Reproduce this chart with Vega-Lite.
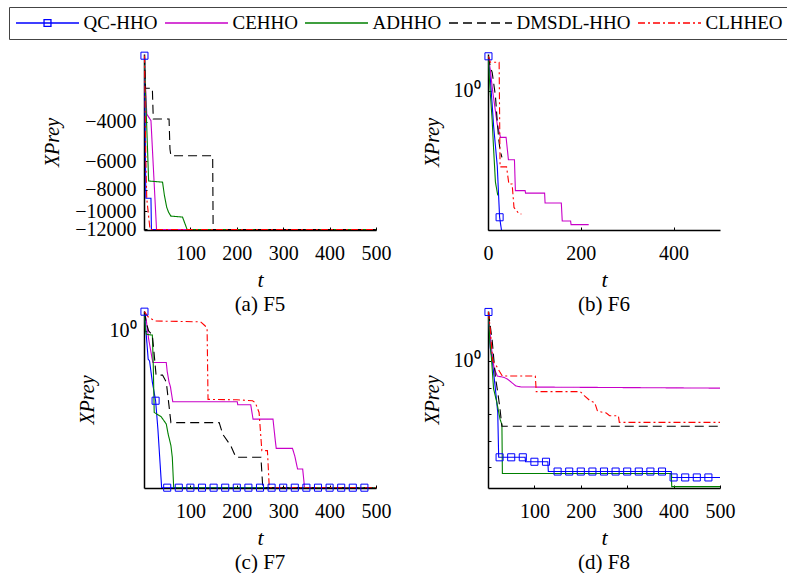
{
  "$schema": "https://vega.github.io/schema/vega-lite/v6.json",
  "padding": {"left": 8, "top": 6, "right": 0, "bottom": 0},
  "background": "white",
  "datasets": {
    "F5": [
      {"alg":"QC-HHO","t":1,"v":-2035},{"alg":"QC-HHO","t":4,"v":-8750},{"alg":"QC-HHO","t":15,"v":-8750},{"alg":"QC-HHO","t":16,"v":-12050},{"alg":"QC-HHO","t":500,"v":-12050},
      {"alg":"CEHHO","t":1,"v":-2035},{"alg":"CEHHO","t":3,"v":-2700},{"alg":"CEHHO","t":6,"v":-3700},{"alg":"CEHHO","t":15,"v":-3950},{"alg":"CEHHO","t":27,"v":-12050},{"alg":"CEHHO","t":500,"v":-12050},
      {"alg":"ADHHO","t":1,"v":-2035},{"alg":"ADHHO","t":3,"v":-2840},{"alg":"ADHHO","t":10,"v":-7330},{"alg":"ADHHO","t":40,"v":-7420},{"alg":"ADHHO","t":44,"v":-8500},{"alg":"ADHHO","t":49,"v":-9600},{"alg":"ADHHO","t":53,"v":-10100},{"alg":"ADHHO","t":58,"v":-10500},{"alg":"ADHHO","t":83,"v":-10600},{"alg":"ADHHO","t":93,"v":-12050},{"alg":"ADHHO","t":500,"v":-12050},
      {"alg":"DMSDL-HHO","t":1,"v":-2035},{"alg":"DMSDL-HHO","t":3,"v":-2840},{"alg":"DMSDL-HHO","t":18,"v":-2840},{"alg":"DMSDL-HHO","t":20,"v":-3890},{"alg":"DMSDL-HHO","t":54,"v":-3890},{"alg":"DMSDL-HHO","t":56,"v":-5300},{"alg":"DMSDL-HHO","t":58,"v":-5660},{"alg":"DMSDL-HHO","t":148,"v":-5660},{"alg":"DMSDL-HHO","t":149,"v":-12050},{"alg":"DMSDL-HHO","t":500,"v":-12050},
      {"alg":"CLHHEO","t":1,"v":-2035},{"alg":"CLHHEO","t":4,"v":-6000},{"alg":"CLHHEO","t":6,"v":-8800},{"alg":"CLHHEO","t":13,"v":-12050},{"alg":"CLHHEO","t":500,"v":-12050}
    ],
    "F5m": [{"t":1,"v":-2035}],
    "F6": [
      {"alg":"QC-HHO","t":1,"v":20},{"alg":"QC-HHO","t":5,"v":3},{"alg":"QC-HHO","t":9,"v":0.3},{"alg":"QC-HHO","t":12,"v":0.05},{"alg":"QC-HHO","t":20,"v":0.0015},{"alg":"QC-HHO","t":25,"v":0.000018},{"alg":"QC-HHO","t":29,"v":0.000006},{"alg":"QC-HHO","t":31,"v":0.000001},
      {"alg":"CEHHO","t":1,"v":20},{"alg":"CEHHO","t":5,"v":6},{"alg":"CEHHO","t":10,"v":1},{"alg":"CEHHO","t":20,"v":0.055},{"alg":"CEHHO","t":27,"v":0.018},{"alg":"CEHHO","t":39,"v":0.018},{"alg":"CEHHO","t":44,"v":0.0026},{"alg":"CEHHO","t":57,"v":0.0026},{"alg":"CEHHO","t":59,"v":0.00018},{"alg":"CEHHO","t":80,"v":0.00018},{"alg":"CEHHO","t":81,"v":0.000145},{"alg":"CEHHO","t":122,"v":0.000145},{"alg":"CEHHO","t":123,"v":0.000062},{"alg":"CEHHO","t":158,"v":0.000062},{"alg":"CEHHO","t":160,"v":0.000013},{"alg":"CEHHO","t":178,"v":0.000013},{"alg":"CEHHO","t":179,"v":0.0000095},{"alg":"CEHHO","t":217,"v":0.0000095},
      {"alg":"ADHHO","t":1,"v":20},{"alg":"ADHHO","t":3,"v":3},{"alg":"ADHHO","t":5,"v":0.8},{"alg":"ADHHO","t":9,"v":0.08},{"alg":"ADHHO","t":12,"v":0.007},{"alg":"ADHHO","t":16,"v":0.00038},{"alg":"ADHHO","t":21,"v":0.00012},
      {"alg":"DMSDL-HHO","t":1,"v":20},{"alg":"DMSDL-HHO","t":5,"v":8},{"alg":"DMSDL-HHO","t":9,"v":5},{"alg":"DMSDL-HHO","t":16,"v":0.65},{"alg":"DMSDL-HHO","t":19,"v":0.12},{"alg":"DMSDL-HHO","t":23,"v":0.016},{"alg":"DMSDL-HHO","t":26,"v":0.006},{"alg":"DMSDL-HHO","t":30,"v":0.0032},
      {"alg":"CLHHEO","t":1,"v":20},{"alg":"CLHHEO","t":5,"v":12},{"alg":"CLHHEO","t":24,"v":12},{"alg":"CLHHEO","t":26,"v":0.0014},{"alg":"CLHHEO","t":40,"v":0.0014},{"alg":"CLHHEO","t":45,"v":0.00032},{"alg":"CLHHEO","t":52,"v":0.00032},{"alg":"CLHHEO","t":56,"v":0.000042},{"alg":"CLHHEO","t":67,"v":0.000024},{"alg":"CLHHEO","t":72,"v":0.000024}
    ],
    "F6m": [{"t":1,"v":20},{"t":25,"v":0.000018}],
    "F7": [
      {"alg":"QC-HHO","t":1,"v":5.3},{"alg":"QC-HHO","t":9,"v":0.087},{"alg":"QC-HHO","t":12,"v":0.075},{"alg":"QC-HHO","t":18,"v":0.012},{"alg":"QC-HHO","t":25,"v":0.0024},{"alg":"QC-HHO","t":30,"v":0.0002},{"alg":"QC-HHO","t":38,"v":0.0000013},{"alg":"QC-HHO","t":500,"v":0.0000013},
      {"alg":"CEHHO","t":1,"v":5.3},{"alg":"CEHHO","t":5,"v":2.5},{"alg":"CEHHO","t":10,"v":0.5},{"alg":"CEHHO","t":19,"v":0.065},{"alg":"CEHHO","t":48,"v":0.065},{"alg":"CEHHO","t":50,"v":0.03},{"alg":"CEHHO","t":54,"v":0.012},{"alg":"CEHHO","t":57,"v":0.008},{"alg":"CEHHO","t":62,"v":0.0022},{"alg":"CEHHO","t":201,"v":0.0022},{"alg":"CEHHO","t":202,"v":0.0017},{"alg":"CEHHO","t":230,"v":0.0017},{"alg":"CEHHO","t":235,"v":0.00049},{"alg":"CEHHO","t":278,"v":0.00049},{"alg":"CEHHO","t":283,"v":0.000075},{"alg":"CEHHO","t":285,"v":0.000039},{"alg":"CEHHO","t":320,"v":0.000039},{"alg":"CEHHO","t":325,"v":0.00002},{"alg":"CEHHO","t":331,"v":0.0000065},{"alg":"CEHHO","t":342,"v":0.0000065},{"alg":"CEHHO","t":346,"v":0.0000013},{"alg":"CEHHO","t":500,"v":0.0000013},
      {"alg":"ADHHO","t":1,"v":5.3},{"alg":"ADHHO","t":3,"v":1.2},{"alg":"ADHHO","t":5,"v":0.75},{"alg":"ADHHO","t":18,"v":0.7},{"alg":"ADHHO","t":20,"v":0.05},{"alg":"ADHHO","t":22,"v":0.00087},{"alg":"ADHHO","t":37,"v":0.0006},{"alg":"ADHHO","t":48,"v":0.00032},{"alg":"ADHHO","t":52,"v":0.000135},{"alg":"ADHHO","t":58,"v":0.00005},{"alg":"ADHHO","t":61,"v":0.000018},{"alg":"ADHHO","t":64,"v":0.0000013},{"alg":"ADHHO","t":500,"v":0.0000013},
      {"alg":"DMSDL-HHO","t":1,"v":5.3},{"alg":"DMSDL-HHO","t":5,"v":2},{"alg":"DMSDL-HHO","t":10,"v":1},{"alg":"DMSDL-HHO","t":18,"v":0.7},{"alg":"DMSDL-HHO","t":21,"v":0.2},{"alg":"DMSDL-HHO","t":26,"v":0.022},{"alg":"DMSDL-HHO","t":40,"v":0.022},{"alg":"DMSDL-HHO","t":48,"v":0.012},{"alg":"DMSDL-HHO","t":54,"v":0.0015},{"alg":"DMSDL-HHO","t":58,"v":0.00036},{"alg":"DMSDL-HHO","t":162,"v":0.00036},{"alg":"DMSDL-HHO","t":170,"v":0.00013},{"alg":"DMSDL-HHO","t":187,"v":0.000049},{"alg":"DMSDL-HHO","t":198,"v":0.000018},{"alg":"DMSDL-HHO","t":252,"v":0.000018},{"alg":"DMSDL-HHO","t":256,"v":0.0000013},{"alg":"DMSDL-HHO","t":500,"v":0.0000013},
      {"alg":"CLHHEO","t":1,"v":5.3},{"alg":"CLHHEO","t":10,"v":3.2},{"alg":"CLHHEO","t":25,"v":2.37},{"alg":"CLHHEO","t":122,"v":2.2},{"alg":"CLHHEO","t":132,"v":1.54},{"alg":"CLHHEO","t":136,"v":1.16},{"alg":"CLHHEO","t":138,"v":0.0027},{"alg":"CLHHEO","t":200,"v":0.0026},{"alg":"CLHHEO","t":234,"v":0.0024},{"alg":"CLHHEO","t":240,"v":0.002},{"alg":"CLHHEO","t":248,"v":0.00087},{"alg":"CLHHEO","t":254,"v":0.000032},{"alg":"CLHHEO","t":266,"v":0.000032},{"alg":"CLHHEO","t":270,"v":0.0000013},{"alg":"CLHHEO","t":500,"v":0.0000013}
    ],
    "F7m": [{"t":1,"v":5.3},{"t":25,"v":0.0024},{"t":50,"v":0.0000013},{"t":75,"v":0.0000013},{"t":100,"v":0.0000013},{"t":125,"v":0.0000013},{"t":150,"v":0.0000013},{"t":175,"v":0.0000013},{"t":200,"v":0.0000013},{"t":225,"v":0.0000013},{"t":250,"v":0.0000013},{"t":275,"v":0.0000013},{"t":300,"v":0.0000013},{"t":325,"v":0.0000013},{"t":350,"v":0.0000013},{"t":375,"v":0.0000013},{"t":400,"v":0.0000013},{"t":425,"v":0.0000013},{"t":450,"v":0.0000013},{"t":475,"v":0.0000013}],
    "F8": [
      {"alg":"QC-HHO","t":1,"v":69},{"alg":"QC-HHO","t":5,"v":3},{"alg":"QC-HHO","t":9,"v":1.15},{"alg":"QC-HHO","t":16,"v":0.087},{"alg":"QC-HHO","t":21,"v":0.0115},{"alg":"QC-HHO","t":23,"v":0.00024},{"alg":"QC-HHO","t":80,"v":0.00024},{"alg":"QC-HHO","t":81,"v":0.000163},{"alg":"QC-HHO","t":129,"v":0.000163},{"alg":"QC-HHO","t":130,"v":0.00007},{"alg":"QC-HHO","t":395,"v":0.00007},{"alg":"QC-HHO","t":396,"v":0.000042},{"alg":"QC-HHO","t":500,"v":0.000042},
      {"alg":"CEHHO","t":1,"v":69},{"alg":"CEHHO","t":5,"v":8},{"alg":"CEHHO","t":10,"v":1.2},{"alg":"CEHHO","t":13,"v":0.55},{"alg":"CEHHO","t":20,"v":0.27},{"alg":"CEHHO","t":35,"v":0.24},{"alg":"CEHHO","t":43,"v":0.2},{"alg":"CEHHO","t":50,"v":0.16},{"alg":"CEHHO","t":60,"v":0.115},{"alg":"CEHHO","t":71,"v":0.105},{"alg":"CEHHO","t":500,"v":0.095},
      {"alg":"ADHHO","t":1,"v":69},{"alg":"ADHHO","t":4,"v":5},{"alg":"ADHHO","t":7,"v":1.6},{"alg":"ADHHO","t":12,"v":0.09},{"alg":"ADHHO","t":19,"v":0.028},{"alg":"ADHHO","t":26,"v":0.0065},{"alg":"ADHHO","t":30,"v":0.004},{"alg":"ADHHO","t":31,"v":0.000059},{"alg":"ADHHO","t":395,"v":0.000059},{"alg":"ADHHO","t":396,"v":0.000019},{"alg":"ADHHO","t":500,"v":0.000019},
      {"alg":"DMSDL-HHO","t":1,"v":69},{"alg":"DMSDL-HHO","t":5,"v":20},{"alg":"DMSDL-HHO","t":9,"v":6},{"alg":"DMSDL-HHO","t":12,"v":1.5},{"alg":"DMSDL-HHO","t":16,"v":0.25},{"alg":"DMSDL-HHO","t":22,"v":0.05},{"alg":"DMSDL-HHO","t":26,"v":0.015},{"alg":"DMSDL-HHO","t":30,"v":0.0035},{"alg":"DMSDL-HHO","t":500,"v":0.0035},
      {"alg":"CLHHEO","t":1,"v":69},{"alg":"CLHHEO","t":5,"v":15},{"alg":"CLHHEO","t":10,"v":1},{"alg":"CLHHEO","t":18,"v":0.65},{"alg":"CLHHEO","t":25,"v":0.4},{"alg":"CLHHEO","t":31,"v":0.27},{"alg":"CLHHEO","t":102,"v":0.27},{"alg":"CLHHEO","t":104,"v":0.07},{"alg":"CLHHEO","t":199,"v":0.07},{"alg":"CLHHEO","t":208,"v":0.049},{"alg":"CLHHEO","t":220,"v":0.032},{"alg":"CLHHEO","t":230,"v":0.027},{"alg":"CLHHEO","t":236,"v":0.013},{"alg":"CLHHEO","t":255,"v":0.011},{"alg":"CLHHEO","t":262,"v":0.0087},{"alg":"CLHHEO","t":281,"v":0.0087},{"alg":"CLHHEO","t":283,"v":0.0049},{"alg":"CLHHEO","t":500,"v":0.0049}
    ],
    "F8m": [{"t":1,"v":69},{"t":25,"v":0.00024},{"t":50,"v":0.00024},{"t":75,"v":0.00024},{"t":100,"v":0.000163},{"t":125,"v":0.000163},{"t":150,"v":0.00007},{"t":175,"v":0.00007},{"t":200,"v":0.00007},{"t":225,"v":0.00007},{"t":250,"v":0.00007},{"t":275,"v":0.00007},{"t":300,"v":0.00007},{"t":325,"v":0.00007},{"t":350,"v":0.00007},{"t":375,"v":0.00007},{"t":400,"v":0.000042},{"t":425,"v":0.000042},{"t":450,"v":0.000042},{"t":475,"v":0.000042}]
  },
  "columns": 2,
  "bounds": "flush",
  "spacing": {"column": 112, "row": 81},
  "concat": [
    {
      "width": 232, "height": 176,
      "title": {"text": "(a) F5"},
      "layer": [
        {
          "data": {"name": "F5"},
          "mark": {"type": "line", "strokeWidth": 1.1, "clip": true},
          "encoding": {
            "x": {"field": "t", "type": "quantitative", "scale": {"domain": [0, 500], "nice": false}, "axis": {"values": [100, 200, 300, 400, 500], "title": "t"}},
            "y": {"field": "v", "type": "quantitative", "scale": {"type": "log", "domain": [-12100, -2000], "nice": false}, "axis": {"values": [-12000, -10000, -8000, -6000, -4000], "format": "d", "title": "XPrey", "titlePadding": 12}},
            "color": {"field": "alg", "type": "nominal", "scale": {"domain": ["QC-HHO", "CEHHO", "ADHHO", "DMSDL-HHO", "CLHHEO"], "range": ["#0000ff", "#c800c8", "#008000", "#000000", "#ff0000"]},
              "legend": {"title": null, "orient": "none", "legendX": -135, "legendY": -47, "direction": "horizontal", "columns": 5,
                "encode": {"symbols": {"update": {"shape": {"signal": "datum.value === 'QC-HHO' ? 'M-1,0H1M-0.11,-0.11H0.11V0.11H-0.11Z' : 'M-1,0H1'"}, "fill": {"value": "transparent"}}}}}},
            "strokeDash": {"field": "alg", "type": "nominal", "scale": {"domain": ["QC-HHO", "CEHHO", "ADHHO", "DMSDL-HHO", "CLHHEO"], "range": [[1, 0], [1, 0], [1, 0], [9, 5], [7, 3, 2, 3]]},
              "legend": {"title": null, "orient": "none", "legendX": -135, "legendY": -47, "direction": "horizontal", "columns": 5}}
          }
        },
        {
          "data": {"name": "F5m"},
          "mark": {"type": "point", "shape": "square", "filled": false, "size": 50, "strokeWidth": 1, "color": "#0000ff", "opacity": 1},
          "encoding": {"x": {"field": "t", "type": "quantitative"}, "y": {"field": "v", "type": "quantitative"}}
        }
      ]
    },
    {
      "width": 232, "height": 176,
      "title": {"text": "(b) F6"},
      "layer": [
        {
          "data": {"name": "F6"},
          "mark": {"type": "line", "strokeWidth": 1.1, "clip": true},
          "encoding": {
            "x": {"field": "t", "type": "quantitative", "scale": {"domain": [0, 500], "nice": false}, "axis": {"values": [0, 200, 400], "title": "t"}},
            "y": {"field": "v", "type": "quantitative", "scale": {"type": "log", "domain": [0.00000598, 24.4], "nice": false}, "axis": {"values": [1], "labelExpr": "'10⁰'", "title": "XPrey", "titlePadding": 11}},
            "color": {"field": "alg", "type": "nominal", "scale": {"domain": ["QC-HHO", "CEHHO", "ADHHO", "DMSDL-HHO", "CLHHEO"], "range": ["#0000ff", "#c800c8", "#008000", "#000000", "#ff0000"]}},
            "strokeDash": {"field": "alg", "type": "nominal", "scale": {"domain": ["QC-HHO", "CEHHO", "ADHHO", "DMSDL-HHO", "CLHHEO"], "range": [[1, 0], [1, 0], [1, 0], [9, 5], [7, 3, 2, 3]]}}
          }
        },
        {
          "data": {"name": "F6m"},
          "mark": {"type": "point", "shape": "square", "filled": false, "size": 50, "strokeWidth": 1, "color": "#0000ff", "opacity": 1},
          "encoding": {"x": {"field": "t", "type": "quantitative"}, "y": {"field": "v", "type": "quantitative"}}
        }
      ]
    },
    {
      "width": 232, "height": 177,
      "title": {"text": "(c) F7"},
      "layer": [
        {
          "data": {"name": "F7"},
          "mark": {"type": "line", "strokeWidth": 1.1, "clip": true},
          "encoding": {
            "x": {"field": "t", "type": "quantitative", "scale": {"domain": [0, 500], "nice": false}, "axis": {"values": [100, 200, 300, 400, 500], "title": "t"}},
            "y": {"field": "v", "type": "quantitative", "scale": {"type": "log", "domain": [0.000001265, 5.62], "nice": false}, "axis": {"values": [1], "labelExpr": "'10⁰'", "title": "XPrey", "titlePadding": 12}},
            "color": {"field": "alg", "type": "nominal", "scale": {"domain": ["QC-HHO", "CEHHO", "ADHHO", "DMSDL-HHO", "CLHHEO"], "range": ["#0000ff", "#c800c8", "#008000", "#000000", "#ff0000"]}},
            "strokeDash": {"field": "alg", "type": "nominal", "scale": {"domain": ["QC-HHO", "CEHHO", "ADHHO", "DMSDL-HHO", "CLHHEO"], "range": [[1, 0], [1, 0], [1, 0], [9, 5], [7, 3, 2, 3]]}}
          }
        },
        {
          "data": {"name": "F7m"},
          "mark": {"type": "point", "shape": "square", "filled": false, "size": 50, "strokeWidth": 1, "color": "#0000ff", "opacity": 1},
          "encoding": {"x": {"field": "t", "type": "quantitative"}, "y": {"field": "v", "type": "quantitative"}}
        }
      ]
    },
    {
      "width": 232, "height": 177,
      "title": {"text": "(d) F8"},
      "layer": [
        {
          "data": {"name": "F8"},
          "mark": {"type": "line", "strokeWidth": 1.1, "clip": true},
          "encoding": {
            "x": {"field": "t", "type": "quantitative", "scale": {"domain": [0, 500], "nice": false}, "axis": {"values": [100, 200, 300, 400, 500], "title": "t"}},
            "y": {"field": "v", "type": "quantitative", "scale": {"type": "log", "domain": [0.00001686, 75], "nice": false}, "axis": {"values": [1, 0.1, 0.01, 0.001, 0.0001], "labelExpr": "datum.value == 1 ? '10⁰' : ''", "title": "XPrey", "titlePadding": 11}},
            "color": {"field": "alg", "type": "nominal", "scale": {"domain": ["QC-HHO", "CEHHO", "ADHHO", "DMSDL-HHO", "CLHHEO"], "range": ["#0000ff", "#c800c8", "#008000", "#000000", "#ff0000"]}},
            "strokeDash": {"field": "alg", "type": "nominal", "scale": {"domain": ["QC-HHO", "CEHHO", "ADHHO", "DMSDL-HHO", "CLHHEO"], "range": [[1, 0], [1, 0], [1, 0], [9, 5], [7, 3, 2, 3]]}}
          }
        },
        {
          "data": {"name": "F8m"},
          "mark": {"type": "point", "shape": "square", "filled": false, "size": 50, "strokeWidth": 1, "color": "#0000ff", "opacity": 1},
          "encoding": {"x": {"field": "t", "type": "quantitative"}, "y": {"field": "v", "type": "quantitative"}}
        }
      ]
    }
  ],
  "resolve": {
    "scale": {"x": "independent", "y": "independent", "color": "shared", "strokeDash": "shared"},
    "legend": {"color": "shared", "strokeDash": "shared"}
  },
  "config": {
    "view": {"stroke": null},
    "font": "Liberation Serif",
    "axis": {"grid": false, "domainColor": "#000", "domainWidth": 1.5, "tickColor": "#000", "tickSize": -3, "tickWidth": 1,
      "labelFont": "Liberation Serif", "labelFontSize": 20, "labelColor": "#000", "labelFlush": false, "labelOverlap": false, "labelBound": false,
      "titleFont": "Liberation Serif", "titleFontSize": 22, "titleFontWeight": "normal", "titleColor": "#000"},
    "axisX": {"labelPadding": 16, "titlePadding": 6, "titleFontStyle": "italic"},
    "axisY": {"labelPadding": 11, "titleFontStyle": "italic", "titleFontSize": 20},
    "title": {"font": "Liberation Serif", "fontSize": 21, "fontWeight": "normal", "color": "#000", "orient": "bottom", "offset": 0},
    "legend": {"labelFont": "Liberation Serif", "labelFontSize": 19, "labelColor": "#000", "symbolSize": 3969, "symbolStrokeWidth": 1.3,
      "symbolType": "M-1,0H1", "clipHeight": 20, "gridAlign": "each", "labelOffset": 3.5, "columnPadding": 6, "padding": 6, "strokeColor": "#444", "fillColor": "#fff", "labelLimit": 300}
  }
}
